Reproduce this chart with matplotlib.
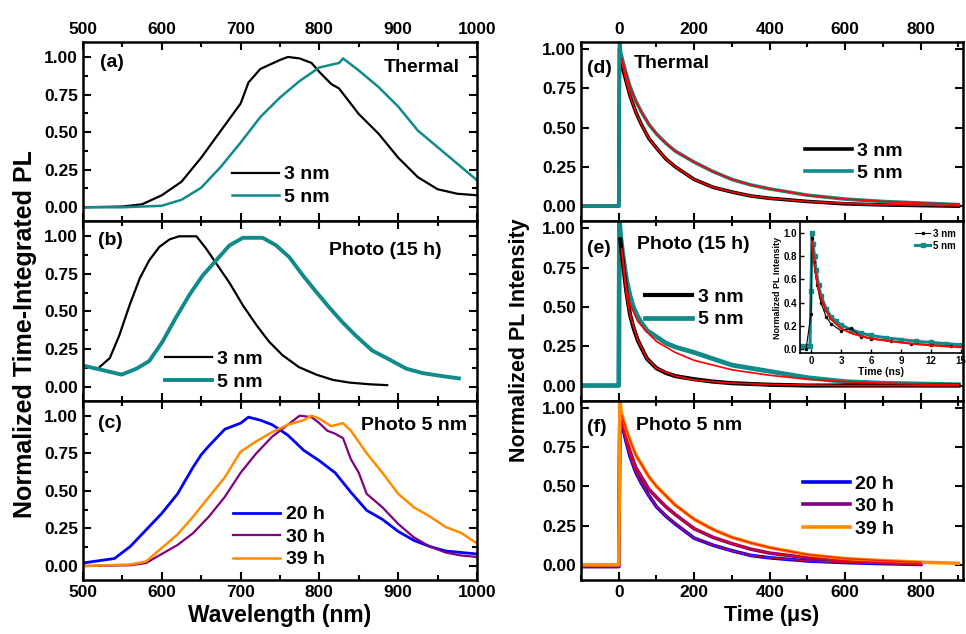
import matplotlib
matplotlib.use('Agg')
import matplotlib.pyplot as plt
from matplotlib.ticker import MultipleLocator

plt.rcParams['font.family'] = ['Liberation Sans', 'DejaVu Sans']
plt.rcParams['font.weight'] = 'bold'
plt.rcParams['axes.labelweight'] = 'bold'

TEAL = '#118a8a'
BLUE = '#0000ff'
PURPLE = '#800080'
ORANGE = '#ff8c00'
RED = '#ff0000'

# ---- (a) thermal spectra ----
wl_a = [500, 550, 575, 600, 625, 650, 675, 700, 710, 725, 750, 760, 775, 790, 800, 815, 825,
        850, 875, 900, 925, 950, 975, 1000]
pl_a_3nm = [0.0, 0.005, 0.02, 0.08, 0.17, 0.33, 0.51, 0.69, 0.83, 0.92, 0.98, 1.00, 0.99, 0.96,
            0.90, 0.82, 0.79, 0.62, 0.49, 0.33, 0.20, 0.12, 0.09, 0.08]
wl_a5 = [500, 550, 600, 625, 650, 675, 700, 725, 750, 775, 800, 825, 830, 850, 875, 900, 925,
         950, 975, 1000]
pl_a_5nm = [0.0, 0.0, 0.01, 0.05, 0.13, 0.27, 0.43, 0.60, 0.73, 0.84, 0.93, 0.96, 0.99, 0.91,
            0.80, 0.67, 0.51, 0.40, 0.29, 0.18]

# ---- (b) photo 15 h spectra ----
wl_b3 = [521, 534, 546, 559, 572, 584, 597, 610, 622, 644, 656, 669, 686, 703, 720, 736, 753,
         774, 796, 817, 838, 863, 886]
pl_b_3nm = [0.13, 0.19, 0.34, 0.54, 0.72, 0.84, 0.93, 0.98, 1.00, 1.00, 0.92, 0.82, 0.69, 0.54,
            0.41, 0.30, 0.21, 0.13, 0.08, 0.045, 0.027, 0.016, 0.01]
wl_b5 = [500, 525, 549, 568, 584, 601, 618, 635, 652, 669, 686, 703, 728, 745, 762, 779, 796,
         812, 829, 846, 867, 889, 910, 931, 956, 977]
pl_b_5nm = [0.14, 0.11, 0.08, 0.12, 0.17, 0.30, 0.46, 0.61, 0.74, 0.84, 0.94, 0.99, 0.99, 0.94,
            0.86, 0.74, 0.63, 0.53, 0.43, 0.34, 0.24, 0.18, 0.12, 0.09, 0.07, 0.055]

# ---- (c) photo 5 nm spectra ----
wl_c = [500, 540, 560, 580, 600, 620, 640, 650, 660, 680, 700, 710, 725, 740, 760, 780, 800,
        820, 840, 860, 880, 900, 920, 940, 960, 980, 1000]
pl_c_20h = [0.02, 0.05, 0.13, 0.24, 0.35, 0.48, 0.66, 0.74, 0.80, 0.91, 0.95, 0.99, 0.97, 0.94,
            0.87, 0.77, 0.70, 0.62, 0.49, 0.37, 0.31, 0.23, 0.17, 0.13, 0.10, 0.09, 0.08]
wl_c30 = [500, 560, 580, 600, 620, 640, 660, 680, 700, 720, 740, 760, 775, 790, 800, 810, 820,
          830, 840, 850, 860, 880, 900, 920, 940, 960, 980, 1000]
pl_c_30h = [0.0, 0.005, 0.02, 0.08, 0.14, 0.22, 0.33, 0.46, 0.62, 0.75, 0.86, 0.94, 1.00, 0.99,
            0.95, 0.90, 0.88, 0.85, 0.71, 0.62, 0.48, 0.39, 0.28, 0.19, 0.13, 0.09, 0.07, 0.06]
wl_c39 = [500, 560, 580, 600, 620, 640, 660, 680, 700, 720, 740, 760, 780, 790, 800, 815, 830,
          840, 860, 880, 900, 920, 940, 960, 980, 1000]
pl_c_39h = [0.0, 0.01, 0.03, 0.12, 0.21, 0.33, 0.46, 0.59, 0.76, 0.83, 0.89, 0.94, 0.97, 1.00,
            0.98, 0.93, 0.95, 0.90, 0.75, 0.62, 0.48, 0.39, 0.33, 0.26, 0.22, 0.15]

# ---- (d) thermal decays ----
t_d = [-100, -5, 0, 2, 5, 10, 20, 30, 45, 60, 80, 100, 125, 150, 200, 250, 300, 350, 400, 500,
       600, 700, 800, 900]
dec_d_3nm = [0, 0, 0, 1.0, 0.95, 0.88, 0.79, 0.70, 0.60, 0.52, 0.43, 0.37, 0.30, 0.25, 0.17,
             0.12, 0.09, 0.065, 0.05, 0.03, 0.015, 0.008, 0.004, 0.0]
dec_d_5nm = [0, 0, 0, 1.05, 0.98, 0.93, 0.84, 0.76, 0.67, 0.60, 0.52, 0.46, 0.40, 0.35, 0.28,
             0.22, 0.17, 0.135, 0.11, 0.07, 0.045, 0.03, 0.02, 0.01]
t_fit = [8, 20, 30, 45, 60, 80, 100, 125, 150, 200, 250, 300, 350, 400, 500, 600, 700, 800, 900]
fit_d_3nm = [0.92, 0.79, 0.70, 0.60, 0.52, 0.43, 0.37, 0.30, 0.25, 0.17, 0.12, 0.09, 0.065,
             0.05, 0.03, 0.018, 0.01, 0.006, 0.003]
fit_d_5nm = [0.94, 0.84, 0.76, 0.67, 0.60, 0.52, 0.46, 0.40, 0.35, 0.28, 0.22, 0.17, 0.135,
             0.11, 0.07, 0.045, 0.03, 0.02, 0.012]

# ---- (e) photo 15 h decays ----
t_e5 = [-100, -5, 0, 2, 5, 10, 20, 30, 40, 50, 60, 75, 100, 125, 150, 200, 250, 300, 350, 400,
        500, 600, 700, 800, 900]
dec_e_5nm = [0, 0, 0, 1.05, 0.95, 0.85, 0.68, 0.57, 0.49, 0.44, 0.40, 0.35, 0.31, 0.27, 0.245,
             0.21, 0.17, 0.13, 0.11, 0.09, 0.05, 0.025, 0.015, 0.01, 0.005]
t_e3 = [4, 10, 20, 30, 40, 50, 60, 75, 100, 125, 150, 200, 250, 300, 350, 400, 500, 600,
        700, 800, 900]
dec_e_3nm = [0.93, 0.80, 0.60, 0.45, 0.36, 0.29, 0.24, 0.17, 0.11, 0.08, 0.06, 0.04,
             0.025, 0.015, 0.01, 0.005, 0, 0, 0, 0, 0]
t_fit_e = [8, 20, 30, 50, 75, 100, 150, 200, 300, 400, 500, 600, 700, 800, 900]
fit_e_3nm = [0.85, 0.58, 0.45, 0.29, 0.17, 0.11, 0.06, 0.035, 0.015, 0.007, 0.003, 0.0, 0.0,
             0.0, 0.0]
fit_e_5nm = [0.87, 0.62, 0.52, 0.41, 0.34, 0.28, 0.21, 0.16, 0.10, 0.065, 0.04, 0.025, 0.015,
             0.01, 0.005]

# ---- (e) inset, ns scale ----
t_in5 = [-1.0, -0.5, -0.1, 0.0, 0.1, 0.2, 0.35, 0.5, 0.75, 1.0, 1.5, 2.0, 2.5, 3.0, 4.0, 5.0,
         6.0, 7.5, 9.0, 10.5, 12.0, 13.5, 15.0]
in_5nm = [0.03, 0.03, 0.03, 0.5, 1.0, 0.9, 0.8, 0.68, 0.55, 0.46, 0.35, 0.28, 0.24, 0.21, 0.17,
          0.14, 0.12, 0.10, 0.085, 0.07, 0.06, 0.05, 0.04]
t_in3 = [-0.5, 0.0, 0.1, 0.3, 0.6, 1.0, 1.5, 2.0, 3.0, 4.0, 5.0, 6.0, 8.0, 10.0, 12.0, 14.0]
in_3nm = [0.0, 0.3, 0.95, 0.75, 0.55, 0.40, 0.28, 0.22, 0.16, 0.18, 0.11, 0.09, 0.07, 0.05,
          0.04, 0.03]
t_in_fit = [0.1, 0.3, 0.5, 0.75, 1.0, 1.5, 2.0, 3.0, 4.0, 5.0, 6.0, 8.0, 10.0, 12.0, 15.0]
in_fit = [0.92, 0.75, 0.63, 0.52, 0.44, 0.33, 0.26, 0.18, 0.14, 0.115, 0.095, 0.07, 0.05,
          0.035, 0.02]

# ---- (f) photo 5 nm decays ----
t_f = [-100, -5, 0, 3, 6, 10, 20, 30, 45, 60, 80, 100, 125, 150, 200, 250, 300, 350, 400, 500,
       600, 700, 800]
dec_f_20h = [-0.01, -0.01, -0.01, 0.97, 0.93, 0.88, 0.78, 0.69, 0.59, 0.52, 0.44, 0.37, 0.31,
             0.26, 0.17, 0.125, 0.09, 0.06, 0.045, 0.025, 0.015, 0.008, 0.003]
dec_f_30h = [-0.01, -0.01, -0.01, 0.98, 0.95, 0.90, 0.80, 0.72, 0.62, 0.56, 0.48, 0.43, 0.37,
             0.32, 0.23, 0.175, 0.135, 0.10, 0.075, 0.045, 0.025, 0.015, 0.008]
t_f39 = t_f + [900]
dec_f_39h = [0.0, 0.0, 0.0, 1.05, 0.98, 0.94, 0.86, 0.79, 0.70, 0.64, 0.56, 0.50, 0.44, 0.38,
             0.29, 0.225, 0.175, 0.14, 0.11, 0.065, 0.04, 0.027, 0.017, 0.01]
t_fit_f = [8, 20, 30, 45, 60, 80, 100, 125, 150, 200, 250, 300, 350, 400, 500, 600, 700, 800]
fit_f_20h = [0.90, 0.78, 0.69, 0.59, 0.52, 0.44, 0.37, 0.31, 0.26, 0.17, 0.125, 0.09, 0.06,
             0.045, 0.025, 0.015, 0.008, 0.003]
fit_f_30h = [0.92, 0.80, 0.72, 0.62, 0.56, 0.48, 0.43, 0.37, 0.32, 0.23, 0.175, 0.135, 0.10,
             0.075, 0.045, 0.025, 0.015, 0.008]
fit_f_39h = [0.95, 0.86, 0.79, 0.70, 0.64, 0.56, 0.50, 0.44, 0.38, 0.29, 0.225, 0.175, 0.14,
             0.11, 0.065, 0.04, 0.027, 0.017]

fig = plt.figure(figsize=(9.66, 6.34), dpi=100)

H = 0.2829
BOTTOMS = [0.0852 + 2 * H, 0.0852 + H, 0.0852]
LX, LW = 83 / 966, 394 / 966
RX, RW = 581 / 966, 382 / 966


def style_axis(ax, pos, minor_y=True):
    ax.tick_params(which='both', direction='in', top=True, right=True, labelsize=12.5,
                   width=1.5)
    ax.tick_params(which='major', length=6)
    ax.tick_params(which='minor', length=3.5)
    for s in ax.spines.values():
        s.set_linewidth(1.8)
    ax.yaxis.set_major_locator(MultipleLocator(0.25))
    ax.yaxis.set_major_formatter('{x:.2f}')
    if minor_y:
        ax.yaxis.set_minor_locator(MultipleLocator(0.125))
    if pos == 0:
        ax.tick_params(labeltop=True, labelbottom=False)
    elif pos == 1:
        ax.tick_params(labeltop=False, labelbottom=False)
    else:
        ax.tick_params(labeltop=False, labelbottom=True)


def legend(ax, x, y, reverse=False):
    h, l = ax.get_legend_handles_labels()
    if reverse:
        h, l = h[::-1], l[::-1]
    ax.legend(h, l, loc='center left', bbox_to_anchor=(x, y), frameon=False, fontsize=14,
              borderpad=0, borderaxespad=0, handlelength=2.4, handletextpad=0.3,
              labelspacing=0.25)


def tag(ax, x, y, s, ha='left'):
    ax.text(x, y, s, transform=ax.transAxes, fontsize=14, ha=ha, va='center')


# left column: spectra
left_axes = []
for i in range(3):
    ax = fig.add_axes([LX, BOTTOMS[i], LW, H])
    ax.set_xlim(500, 1000)
    ax.set_ylim(-0.093, 1.10)
    ax.xaxis.set_major_locator(MultipleLocator(100))
    ax.xaxis.set_minor_locator(MultipleLocator(50))
    style_axis(ax, i)
    left_axes.append(ax)

ax_a, ax_b, ax_c = left_axes
ax_a.plot(wl_a, pl_a_3nm, color='black', lw=1.6, label='3 nm')
ax_a.plot(wl_a5, pl_a_5nm, color=TEAL, lw=1.8, label='5 nm')
legend(ax_a, 0.378, 0.198)
tag(ax_a, 0.043, 0.883, '(a)')
tag(ax_a, 0.957, 0.86, 'Thermal', ha='right')

ax_b.plot(wl_b3, pl_b_3nm, color='black', lw=1.6, label='3 nm')
ax_b.plot(wl_b5, pl_b_5nm, color=TEAL, lw=2.8, label='5 nm')
legend(ax_b, 0.208, 0.168)
tag(ax_b, 0.038, 0.894, '(b)')
tag(ax_b, 0.911, 0.838, 'Photo (15 h)', ha='right')

ax_c.plot(wl_c, pl_c_20h, color=BLUE, lw=2.0, label='20 h')
ax_c.plot(wl_c30, pl_c_30h, color=PURPLE, lw=1.6, label='30 h')
ax_c.plot(wl_c39, pl_c_39h, color=ORANGE, lw=1.8, label='39 h')
legend(ax_c, 0.381, 0.239)
tag(ax_c, 0.038, 0.872, '(c)')
tag(ax_c, 0.975, 0.861, 'Photo 5 nm', ha='right')
ax_c.set_xlabel('Wavelength (nm)', fontsize=16.5, labelpad=3)

# right column: decays
right_axes = []
for i in range(3):
    ax = fig.add_axes([RX, BOTTOMS[i], RW, H])
    ax.set_xlim(-100, 912)
    ax.set_ylim(-0.096, 1.045)
    ax.xaxis.set_major_locator(MultipleLocator(200))
    ax.xaxis.set_minor_locator(MultipleLocator(100))
    style_axis(ax, i, minor_y=False)
    right_axes.append(ax)

ax_d, ax_e, ax_f = right_axes
ax_d.plot(t_d, dec_d_3nm, color='black', lw=2.6, label='3 nm')
ax_d.plot(t_d, dec_d_5nm, color=TEAL, lw=2.6, label='5 nm')
ax_d.plot(t_fit, fit_d_3nm, color=RED, lw=1.2)
ax_d.plot(t_fit, fit_d_5nm, color=RED, lw=1.2)
legend(ax_d, 0.586, 0.329)
tag(ax_d, 0.016, 0.854, '(d)')
tag(ax_d, 0.139, 0.882, 'Thermal')

ax_e.plot(t_e5, dec_e_5nm, color=TEAL, lw=3.4, label='5 nm')
ax_e.plot(t_e3, dec_e_3nm, color='black', lw=3.0, label='3 nm')
ax_e.plot(t_fit_e, fit_e_3nm, color=RED, lw=1.2)
ax_e.plot(t_fit_e, fit_e_5nm, color=RED, lw=1.2)
legend(ax_e, 0.168, 0.514, reverse=True)
tag(ax_e, 0.016, 0.85, '(e)')
tag(ax_e, 0.147, 0.872, 'Photo (15 h)')

ax_f.plot(t_f, dec_f_20h, color=BLUE, lw=2.6, label='20 h')
ax_f.plot(t_f, dec_f_30h, color=PURPLE, lw=2.6, label='30 h')
ax_f.plot(t_f39, dec_f_39h, color=ORANGE, lw=2.6, label='39 h')
ax_f.plot(t_fit_f, fit_f_20h, color=RED, lw=1.0, alpha=0.8)
ax_f.plot(t_fit_f, fit_f_30h, color=RED, lw=1.0, alpha=0.8)
ax_f.plot(t_fit_f, fit_f_39h, color=RED, lw=1.0, alpha=0.8)
legend(ax_f, 0.581, 0.411)
tag(ax_f, 0.016, 0.85, '(f)')
tag(ax_f, 0.144, 0.861, 'Photo 5 nm')
ax_f.set_xlabel('Time (\u03bcs)', fontsize=15.5, labelpad=4)

# shared y labels
fig.text(0.026, 0.473, 'Normalized Time-Integrated PL', rotation=90, fontsize=18,
         ha='center', va='center')
fig.text(519 / 966, 1 - 340 / 634, 'Normalized PL Intensity', rotation=90, fontsize=15.5,
         ha='center', va='center')

# inset in (e)
axi = fig.add_axes([800 / 966, 1 - 353 / 634, 163 / 966, 131 / 634])
axi.plot(t_in5, in_5nm, color=TEAL, lw=2.2, marker='s', ms=2.5, label='5 nm')
axi.plot(t_in3, in_3nm, color='black', lw=0.8, marker='.', ms=3, label='3 nm')
axi.plot(t_in_fit, in_fit, color=RED, lw=1.5)
axi.set_xlim(-1.1, 15.2)
axi.set_ylim(-0.03, 1.09)
axi.xaxis.set_major_locator(MultipleLocator(3))
axi.yaxis.set_major_locator(MultipleLocator(0.2))
axi.yaxis.set_major_formatter('{x:.1f}')
axi.tick_params(direction='in', labelsize=7, length=3, width=1, pad=2)
for s in axi.spines.values():
    s.set_linewidth(1.2)
axi.set_xlabel('Time (ns)', fontsize=7.5, labelpad=1)
axi.set_ylabel('Normalized PL Intensity', fontsize=6.5, labelpad=1)
h, l = axi.get_legend_handles_labels()
axi.legend(h[::-1], l[::-1], loc='upper right', frameon=False, fontsize=7,
           handlelength=1.6, handletextpad=0.3, labelspacing=0.2, borderpad=0.2)

fig.savefig('out.png', dpi=100)
